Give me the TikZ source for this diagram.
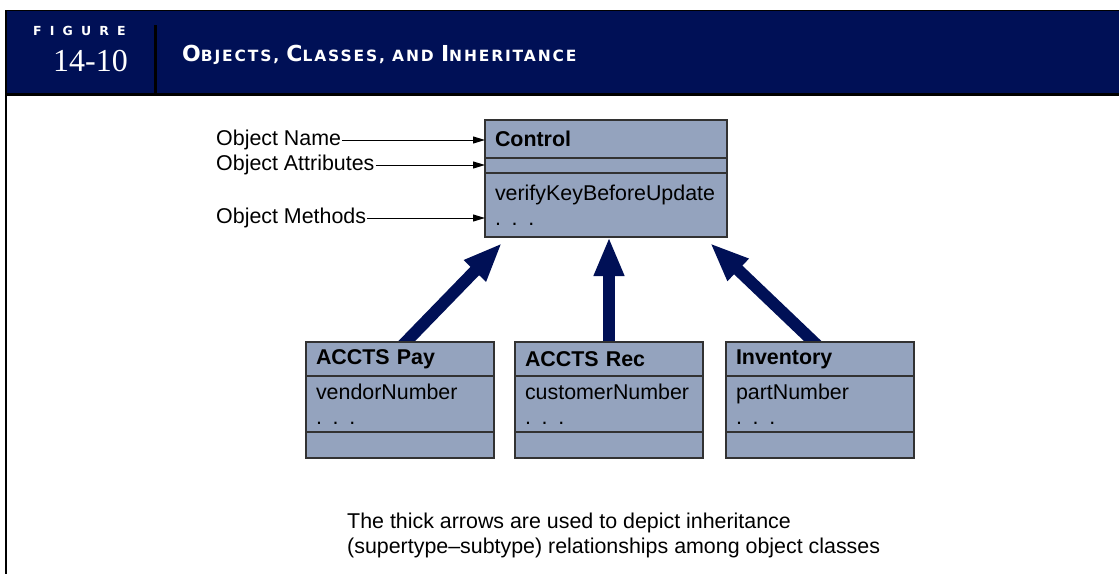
\documentclass[tikz,border=0pt]{standalone}
\usepackage{fontspec}
\setmainfont{Liberation Sans}
\newfontfamily\headfont{DejaVu Sans}
\newfontfamily\numfont{Liberation Serif}
\usepackage{xcolor}
\usetikzlibrary{arrows.meta, positioning, backgrounds}
\definecolor{navy}{RGB}{0,16,86}
\definecolor{boxfill}{RGB}{148,163,190}
\definecolor{boxline}{RGB}{50,50,50}
\newcommand{\diagfont}{\fontsize{21.4}{25}\selectfont}
\newcommand{\titlecap}[1]{{\fontsize{22}{22}\selectfont #1}}

\begin{document}
\begin{tikzpicture}[x=1pt, y=-1pt,
    part/.style={rectangle, draw=boxline, line width=1.2pt, fill=boxfill,
                 anchor=north west, align=left, inner xsep=10pt, inner ysep=2pt,
                 outer sep=0pt, font=\diagfont},
    ctrlpart/.style={part, text width=222pt},
    subpart/.style={part, text width=168pt},
    lbl/.style={font=\diagfont, inner xsep=1pt, anchor=west},
    headtext/.style={text=white, anchor=west, inner sep=0pt},
    pointer/.style={-{Triangle[length=12pt, width=7pt]}, line width=1pt},
    inherit/.style={-{Triangle[length=39pt, width=28pt]}, line width=12pt, draw=navy},
    node distance=0pt
  ]
    \useasboundingbox (0,0) rectangle (1119,574);

    % header band
    \fill[navy] (6,10) rectangle (1119,95);
    \draw[line width=1.5pt] (6,10.5) -- (1119,10.5);
    \draw[line width=3pt] (6,94.5) -- (1119,94.5);
    \draw[line width=2.5pt] (6,10) -- (6,574);
    \draw[line width=3pt] (155.5,25) -- (155.5,95);
    \node[headtext, font=\headfont\bfseries\fontsize{12.5}{13}\selectfont] (figword) at (33,31)
      {\addfontfeature{LetterSpace=65}FIGURE};
    \node[headtext, font=\numfont\fontsize{32}{32}\selectfont] (fignum) at (53,61) {14-10};
    \node[headtext, font=\headfont\bfseries\fontsize{15.5}{16}\selectfont] (figtitle) at (182,55)
      {\addfontfeature{LetterSpace=12}\titlecap{O}BJECTS, \titlecap{C}LASSES, AND \titlecap{I}NHERITANCE};

    % superclass
    \node[ctrlpart, minimum height=38pt] (ctrlname) at (485,120) {\bfseries Control};
    \node[ctrlpart, minimum height=15pt, below=of ctrlname] (ctrlattr) {};
    \node[ctrlpart, minimum height=64pt, below=of ctrlattr] (ctrlmeth) {verifyKeyBeforeUpdate\\. . .};

    \node[lbl] (namelbl) at (215,140) {Object Name};
    \node[lbl] (attrlbl) at (215,165) {Object Attributes};
    \node[lbl] (methlbl) at (215,218) {Object Methods};
    \draw[pointer] (namelbl) -- (namelbl -| ctrlname.west);
    \draw[pointer] (attrlbl) -- (attrlbl -| ctrlattr.west);
    \draw[pointer] (methlbl) -- (methlbl -| ctrlmeth.west);

    % subclasses
    \node[subpart, minimum height=34pt] (payname) at (306,342) {\bfseries ACCTS Pay};
    \node[subpart, minimum height=56pt, below=of payname] (payattr) {vendorNumber\\. . .};
    \node[subpart, minimum height=26pt, below=of payattr] (paymeth) {};

    \node[subpart, minimum height=34pt] (recname) at (515,342) {\bfseries ACCTS Rec};
    \node[subpart, minimum height=56pt, below=of recname] (recattr) {customerNumber\\. . .};
    \node[subpart, minimum height=26pt, below=of recattr] (recmeth) {};

    \node[subpart, minimum height=34pt] (invname) at (726,342) {\bfseries Inventory};
    \node[subpart, minimum height=56pt, below=of invname] (invattr) {partNumber\\. . .};
    \node[subpart, minimum height=26pt, below=of invattr] (invmeth) {};

    \begin{pgfonlayer}{background}
      \draw[inherit] ([yshift=-6pt]payname.north) -- ([xshift=17pt, yshift=-6pt]ctrlmeth.south west);
      \draw[inherit] ([yshift=-6pt]recname.north) -- (recname.north |- ctrlmeth.south);
      \draw[inherit] ([yshift=-6pt]invname.north) -- ([xshift=-17pt, yshift=-6pt]ctrlmeth.south east);
    \end{pgfonlayer}

    \node[lbl, align=left] (caption) at (346,535)
      {The thick arrows are used to depict inheritance\\(supertype--subtype) relationships among object classes};
  \end{tikzpicture}
\end{document}
